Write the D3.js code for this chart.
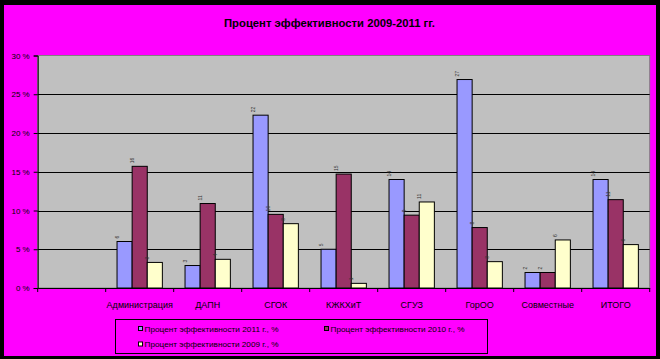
<!DOCTYPE html>
<html><head><meta charset="utf-8">
<script src="https://cdn.jsdelivr.net/npm/d3@7/dist/d3.min.js"></script>
<style>body{margin:0;background:#000;} svg{display:block;}</style>
</head><body><svg id="c" width="660" height="359"></svg>
<script>
const categories = ["", "Администрация", "ДАПН", "СГОК", "КЖКХиТ", "СГУЗ", "ГорОО", "Совместные", "ИТОГО"];
const seriesNames = ["Процент эффективности 2011 г., %", "Процент эффективности 2010 г., %", "Процент эффективности 2009 г., %"];
const values2011 = [null, 6.0, 2.9, 22.3, 5.0, 14.0, 26.9, 2.0, 14.0];
const values2010 = [null, 15.7, 10.9, 9.5, 14.7, 9.4, 7.8, 2.0, 11.4];
const values2009 = [null, 3.3, 3.7, 8.3, 0.6, 11.1, 3.4, 6.2, 5.6];
const yTicks = [0, 5, 10, 15, 20, 25, 30];
const colors = ["#9999FF", "#993366", "#FFFFCC"];
const seriesValues = [values2011, values2010, values2009];

const svg = d3.select("#c");
svg.append("rect").attr("x", 4).attr("y", 5).attr("width", 652).attr("height", 351).attr("fill", "#FF00FF");

svg.append("text").attr("x", 329.5).attr("y", 26.7).attr("text-anchor", "middle")
  .attr("font-family", "Liberation Sans, Arial, sans-serif").attr("font-weight", "bold")
  .attr("font-size", 11.5).attr("textLength", 211).attr("lengthAdjust", "spacingAndGlyphs")
  .text("Процент эффективности 2009-2011 гг.");

const L = 37.7, R = 649.7, T = 55.5, B = 288;
const x = d3.scaleBand().domain(categories.map((d, i) => i)).range([L, R]).padding(0);
const xs = d3.scaleBand().domain([0, 1, 2]).range([0, x.bandwidth()]).paddingInner(0).paddingOuter(0.75);
const y = d3.scaleLinear().domain([0, 30]).range([B, T]);

svg.append("rect").attr("x", L).attr("y", T).attr("width", R - L).attr("height", B - T)
  .attr("fill", "#C0C0C0").attr("stroke", "#808080").attr("stroke-width", 1);

svg.append("g").selectAll("line").data(yTicks.filter(d => d > 0 && d < 30)).join("line")
  .attr("x1", L).attr("x2", R).attr("y1", d => Math.round(y(d)) + 0.5).attr("y2", d => Math.round(y(d)) + 0.5)
  .attr("stroke", "#000").attr("stroke-width", 1);

const g = svg.append("g");
seriesValues.forEach((vals, s) => {
  vals.forEach((v, i) => {
    if (v == null) return;
    const bx = x(i) + xs(s);
    g.append("rect").attr("x", bx).attr("y", y(v)).attr("width", xs.bandwidth()).attr("height", B - y(v))
      .attr("fill", colors[s]).attr("stroke", "#000").attr("stroke-width", 1);
    const tx = bx + 1.5, ty = y(v) - 3;
    g.append("text").attr("transform", `translate(${tx},${ty}) rotate(-90)`)
      .attr("font-family", "Liberation Sans, Arial, sans-serif").attr("font-size", 5)
      .attr("fill", "#333").text(Math.round(v));
  });
});

const yAxis = d3.axisLeft(y).tickValues(yTicks).tickSize(4).tickPadding(4).tickFormat(d => d + " %");
const ya = svg.append("g").attr("transform", `translate(${L},0)`).call(yAxis);
ya.selectAll("text").attr("font-family", "Liberation Sans, Arial, sans-serif").attr("font-size", 8).attr("fill", "#000");
ya.selectAll("line,path").attr("stroke", "#000");

const xAxis = d3.axisBottom(x).tickSize(0).tickFormat(i => categories[i]).tickPadding(14);
const xa = svg.append("g").attr("transform", `translate(0,${B})`).call(xAxis);
xa.select("path").attr("stroke", "#000");
xa.selectAll("text").attr("font-family", "Liberation Sans, Arial, sans-serif").attr("font-size", 9).attr("fill", "#000");
svg.append("g").selectAll("line").data(d3.range(categories.length + 1)).join("line")
  .attr("x1", i => L + i * x.step()).attr("x2", i => L + i * x.step())
  .attr("y1", B).attr("y2", B + 4).attr("stroke", "#000");

// legend
svg.append("rect").attr("x", 115.5).attr("y", 319.5).attr("width", 372).attr("height", 34)
  .attr("fill", "none").attr("stroke", "#000").attr("stroke-width", 1);
const legendPos = [[138.5, 326.5], [324.5, 326.5], [138.5, 342]];
seriesNames.forEach((n, s) => {
  const [lx, ly] = legendPos[s];
  svg.append("rect").attr("x", lx).attr("y", ly).attr("width", 4).attr("height", 4)
    .attr("fill", colors[s]).attr("stroke", "#000").attr("stroke-width", 1);
  svg.append("text").attr("x", lx + 6).attr("y", ly + 5)
    .attr("font-family", "Liberation Sans, Arial, sans-serif").attr("font-size", 7.5)
    .attr("textLength", 134).attr("lengthAdjust", "spacingAndGlyphs").text(n);
});
</script></body></html>
